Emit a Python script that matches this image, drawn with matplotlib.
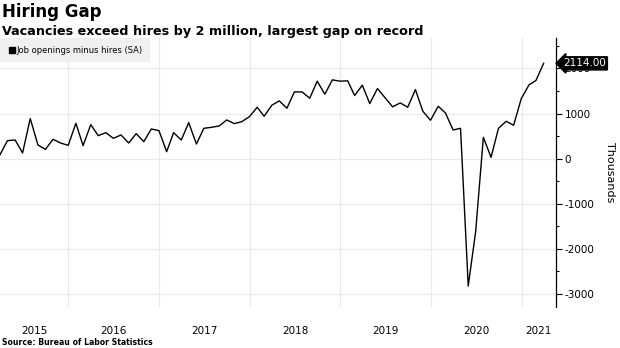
import numpy as np
import pandas as pd
import matplotlib
matplotlib.use("Agg")
import matplotlib.pyplot as plt
from matplotlib.lines import Line2D

# Job openings minus hires, thousands, monthly (SA), Mar 2015 - Mar 2021
start_month = "2015-03-31"
gap = [
    89, 400, 415, 127, 889, 304, 207, 430, 348, 296,
    785, 289, 756, 511, 578, 452, 526, 348, 556, 378,
    659, 622, 156, 578, 415, 800, 326, 674, 696, 726,
    859, 778, 822, 933, 1141, 941, 1185, 1282, 1119, 1481,
    1481, 1341, 1719, 1430, 1748, 1719, 1726, 1400, 1630, 1222,
    1556, 1356, 1150, 1237, 1141, 1533, 1052, 852, 1163, 1015,
    637, 674, -2822, -1615, 474, 30, 674, 830, 741, 1333,
    1637, 1733, 2114,
]
years = [2015, 2016, 2017, 2018, 2019, 2020, 2021]
y_ticks = [-3000, -2000, -1000, 0, 1000, 2000]

dates = pd.date_range(start_month, periods=len(gap), freq="ME")
x_left = pd.Timestamp("2015-03-31")
x_right = pd.Timestamp("2021-05-20")

fig = plt.figure(figsize=(6.2, 3.48), dpi=100)
ax = fig.add_axes([0.0, 0.1178, 0.8968, 0.7730])

ax.plot(dates, gap, color="black", linewidth=1.0, zorder=3)

ax.set_xlim(x_left, x_right)
ax.set_ylim(-3288, 2676)

# gridlines at year boundaries, labels centred in each (visible) year
bounds = [pd.Timestamp(f"{y}-01-01") for y in years[1:]]
ax.set_xticks(bounds)
ax.set_xticklabels([])
ax.tick_params(axis="x", which="major", length=0)
mids = []
for y in years:
    a = max(pd.Timestamp(f"{y}-01-01"), x_left)
    b = min(pd.Timestamp(f"{y + 1}-01-01"), x_right)
    mids.append(a + (b - a) / 2)
ax.set_xticks(mids, minor=True)
ax.set_xticklabels([str(y) for y in years], minor=True, fontsize=7.5)
ax.tick_params(axis="x", which="minor", length=0, pad=14)

ax.yaxis.tick_right()
ax.set_yticks(y_ticks)
ax.set_yticklabels([str(v) for v in y_ticks], fontsize=7.5)
ax.set_yticks(np.arange(-3000, 2501, 500), minor=True)
ax.tick_params(axis="y", which="major", length=4, width=0.8, pad=2)
ax.tick_params(axis="y", which="minor", length=2.5, width=0.8)

ax.grid(True, which="major", color="#e9e9e9", linewidth=0.8)
ax.set_axisbelow(True)
for s in ["top", "left", "bottom"]:
    ax.spines[s].set_visible(False)
ax.spines["right"].set_linewidth(0.9)

ax.yaxis.set_label_position("right")
ax.set_ylabel("Thousands", fontsize=8, rotation=-90, labelpad=15)

# last value tag
ax.annotate("2114.00", xy=(1.0, gap[-1]), xycoords=("axes fraction", "data"),
            xytext=(5, 0), textcoords="offset points", va="center", ha="left",
            fontsize=7.5, color="white",
            bbox=dict(boxstyle="larrow,pad=0.15", fc="black", ec="black"),
            annotation_clip=False, zorder=5)

leg = ax.legend(handles=[Line2D([], [], marker="s", color="black", linestyle="none",
                                markersize=4)],
                labels=["Job openings minus hires (SA)"], loc="upper left",
                bbox_to_anchor=(0.0, 1.0), fontsize=6, frameon=True, fancybox=False,
                handletextpad=0.1, borderpad=0.9, handlelength=1.0, borderaxespad=0.0)
leg.get_frame().set_facecolor("#f0f0f0")
leg.get_frame().set_edgecolor("none")
leg.get_frame().set_alpha(1.0)

fig.text(0.003, 0.965, "Hiring Gap", fontsize=12, fontweight="bold", va="center", ha="left")
fig.text(0.003, 0.91, "Vacancies exceed hires by 2 million, largest gap on record",
         fontsize=9.2, fontweight="bold", va="center", ha="left")
fig.text(0.003, 0.017, "Source: Bureau of Labor Statistics", fontsize=5.6,
         fontweight="bold", va="center", ha="left")

fig.savefig("out.png", dpi=100)
